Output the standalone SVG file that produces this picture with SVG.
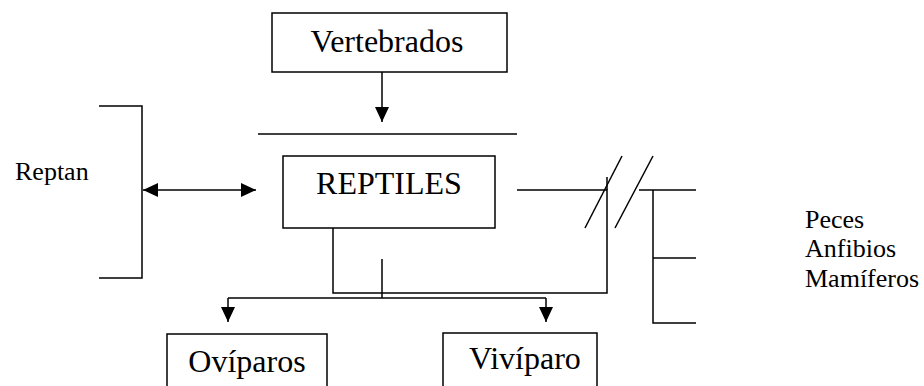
<svg xmlns="http://www.w3.org/2000/svg" width="924" height="386" viewBox="0 0 924 386">
  <style>
    .box { fill: #ffffff; stroke: #000000; stroke-width: 1.5; }
    .ln { fill: none; stroke: #000000; stroke-width: 1.5; }
    text { font-family: "Liberation Serif", "DejaVu Serif", serif; fill: #000000; }
  </style>
  <defs>
    <marker id="head" viewBox="0 0 15 15" refX="15" refY="7.5" markerWidth="15" markerHeight="15" markerUnits="userSpaceOnUse" orient="auto-start-reverse">
      <path d="M0,0.5 L15,7.5 L0,14.5 Z" fill="#000000"/>
    </marker>
  </defs>
  <rect width="924" height="386" fill="#ffffff"/>

  <g id="vertebrados">
    <rect class="box" x="272" y="13" width="235" height="59"/>
    <text x="387" y="52" font-size="32" text-anchor="middle">Vertebrados</text>
  </g>

  <g id="reptiles">
    <rect class="box" x="283" y="156" width="212" height="72"/>
    <text x="389" y="194" font-size="32" text-anchor="middle">REPTILES</text>
  </g>

  <g id="oviparos">
    <rect class="box" x="167" y="334" width="160" height="60"/>
    <text x="247" y="372" font-size="32" text-anchor="middle">Ovíparos</text>
  </g>

  <g id="viviparo">
    <rect class="box" x="443" y="333" width="154" height="60"/>
    <text x="469" y="369" font-size="32">Vivíparo</text>
  </g>

  <g id="reptan">
    <text x="15" y="180" font-size="26">Reptan</text>
  </g>

  <g id="otros">
    <text x="805" y="228" font-size="26">Peces</text>
    <text x="805" y="257" font-size="26">Anfibios</text>
    <text x="805" y="287" font-size="26">Mamíferos</text>
  </g>

  <g id="connectors">
    <!-- Vertebrados down to the bar -->
    <line class="ln" x1="382" y1="72" x2="382" y2="122" marker-end="url(#head)"/>
    <line class="ln" x1="258" y1="134" x2="517" y2="134"/>

    <!-- left bracket and double arrow -->
    <polyline class="ln" points="99,106 142,106 142,278 99,278"/>
    <line class="ln" x1="143" y1="190" x2="256" y2="190" marker-start="url(#head)" marker-end="url(#head)"/>

    <!-- loop from REPTILES to the broken link -->
    <polyline class="ln" points="517,190 607,190 607,293 333,293 333,228"/>
    <line class="ln" x1="607" y1="177" x2="607" y2="190"/>

    <!-- break marks -->
    <line class="ln" x1="585" y1="228" x2="622" y2="156"/>
    <line class="ln" x1="615" y1="228" x2="653" y2="156"/>

    <!-- right bracket -->
    <line class="ln" x1="639" y1="190" x2="696" y2="190"/>
    <polyline class="ln" points="653,190 653,323 696,323"/>
    <line class="ln" x1="653" y1="258" x2="696" y2="258"/>

    <!-- split to Ovíparos / Vivíparo -->
    <line class="ln" x1="382" y1="259" x2="382" y2="298"/>
    <line class="ln" x1="228" y1="298" x2="546" y2="298"/>
    <line class="ln" x1="228" y1="298" x2="228" y2="322" marker-end="url(#head)"/>
    <line class="ln" x1="546" y1="298" x2="546" y2="322" marker-end="url(#head)"/>
  </g>
</svg>
